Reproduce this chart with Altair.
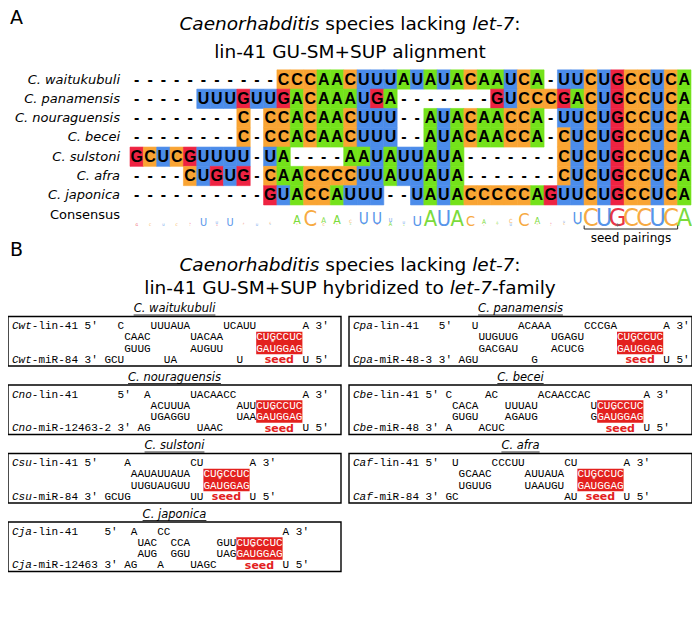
import math
import altair as alt
import pandas as pd

# ---------------- data : panel A ----------------
species = ["C. waitukubuli", "C. panamensis", "C. nouraguensis", "C. becei",
           "C. sulstoni", "C. afra", "C. japonica"]
consensus_label = "Consensus"
alignment = [
    "-" * 11 + "CCCAACUUUAUAUACAAUCA" + "-" + "UUCUGCCUCA",
    "-" * 5 + "UUUGUUG" + "ACAAAUGA" + "-" * 7 + "GUCCCGACUGCCUCA",
    "-" * 8 + "C" + "-" + "CCACAACUUU" + "--" + "AUACAACCA" + "-" + "UUCUGCCUCA",
    "-" * 8 + "C" + "-" + "CCACAACUUU" + "--" + "AUACAACCA" + "-" + "CUCUGCCUCA",
    "GCUCGUUUU" + "-" + "UA" + "-" * 4 + "AAUAUUAUA" + "-" * 7 + "CUCUGCCUCA",
    "-" * 4 + "CUGUG" + "-" + "CAACCCC" + "UUAUUAUA" + "-" * 7 + "CUCUGCCUCA",
    "-" * 10 + "GUACCAUUU" + "--" + "UAUA" + "CCCCC" + "AG" + "UUCUGCCUCA",
]
bases = ["A", "C", "G", "U"]
cell_colors = ["#74E21A", "#F9A433", "#EE2342", "#4B8CEA"]
logo_colors = ["#7BDB3C", "#F7AA42", "#EB3447", "#5795EA"]
seed_span = [34, 40]
wobble_column = 36

title_A = [[("Caenorhabditis", True), (" species lacking ", False), ("let-7", True), (":", False)],
           [("lin-41 GU-SM+SUP alignment", False)]]
title_B = [[("Caenorhabditis", True), (" species lacking ", False), ("let-7", True), (":", False)],
           [("lin-41 GU-SM+SUP hybridized to ", False), ("let-7", True), ("-family", False)]]

# ---------------- data : panel B ----------------
box_species = ["C. waitukubuli", "C. panamensis", "C. nouraguensis", "C. becei",
               "C. sulstoni", "C. afra", "C. japonica"]
target_labels = ["Cwt-lin-41", "Cpa-lin-41", "Cno-lin-41", "Cbe-lin-41",
                 "Csu-lin-41", "Caf-lin-41", "Cja-lin-41"]
mirna_labels = ["Cwt-miR-84", "Cpa-miR-48-3", "Cno-miR-12463-2", "Cbe-miR-48",
                "Csu-miR-84", "Caf-miR-84", "Cja-miR-12463"]
target_unpaired = [
    ["C", "UUUAUA", "UCAUU", "A"],
    ["U", "ACAAA", "CCCGA", "A"],
    ["A", "UACAACC", "A"],
    ["C", "AC", "ACAACCAC", "A"],
    ["A", "CU", "A"],
    ["U", "CCCUU", "CU", "A"],
    ["A", "CC", "", "A"],
]
target_paired = [
    ["CAAC", "UACAA", "CUGCCUC"],
    ["UUGUUG", "UGAGU", "CUGCCUC"],
    ["ACUUUA", "AUUCUGCCUC"],
    ["CACA", "UUUAU", "UCUGCCUC"],
    ["AAUAUUAUA", "CUGCCUC"],
    ["GCAAC", "AUUAUA", "CUGCCUC"],
    ["UAC", "CCA", "GUUCUGCCUC"],
]
mirna_paired = [
    ["GUUG", "AUGUU", "GAUGGAG"],
    ["GACGAU", "ACUCG", "GAUGGAG"],
    ["UGAGGU", "UAAGAUGGAG"],
    ["GUGU", "AGAUG", "GGAUGGAG"],
    ["UUGUAUGUU", "GAUGGAG"],
    ["UGUUG", "UAAUGU", "GAUGGAG"],
    ["AUG", "GGU", "UAGGAUGGAG"],
]
mirna_unpaired = [
    ["GCU", "UA", "U", "U"],
    ["AGU", "G", "", "U"],
    ["AG", "UAAC", "U"],
    ["A", "ACUC", "", "U"],
    ["GCUG", "UU", "U"],
    ["GC", "", "AU", "U"],
    ["AG", "A", "UAGC", "U"],
]
seed_length = 7

# ---------------- layout (page pixels) ----------------
MARGIN = 8
W, H = 684, 617


def P(v):
    return v - MARGIN


SANS = "DejaVu Sans"
MONO = "Liberation Mono"
ALN_X0, ALN_X1 = 130, 691
ALN_Y0, ROW_H = 69.85, 19.3
LABEL_X = 120
LOGO_BASE, LOGO_FULL = 225.5, 18.5

B_TXT_X0 = 12
CW = 6.6
X_STEP = (353 - B_TXT_X0) / CW
BOX_X = [(8, 341), (349, 692)]
LINE0_Y, LINE_H = 326.0, 11.3
ROW_STEP = 68.5 / LINE_H
BOX_TOP0 = 316.5
BOX_H = 49.5
TITLE_Y0 = 309

DV = {' ': .318, 'a': .613, 'b': .635, 'c': .550, 'd': .635, 'e': .615, 'f': .352, 'g': .635,
      'h': .634, 'i': .278, 'j': .278, 'k': .579, 'l': .278, 'm': .974, 'n': .634, 'o': .612,
      'p': .635, 'r': .411, 's': .521, 't': .392, 'u': .634, 'w': .818, 'y': .592, 'z': .525,
      'C': .698, 'G': .775, 'M': .863, 'P': .603, 'S': .635, 'U': .732, '-': .361, '+': .838,
      ':': .337, '.': .318, "'": .275}


def tw(s, size):
    return sum(DV.get(ch, .636) for ch in s) * size


layers = []

# ---------------- panel A ----------------
cell_rows = []
for r, seq in enumerate(alignment):
    for c, ch in enumerate(seq):
        cell_rows.append({"row": r, "col": c, "base": ch})
cells = pd.DataFrame(cell_rows)

xA = alt.Scale(domain=[0, len(alignment[0])], range=[P(ALN_X0), P(ALN_X1)])
yA = alt.Scale(domain=[0, 1], range=[P(ALN_Y0), P(ALN_Y0 + ROW_H)])
cmapA = alt.Scale(domain=bases, range=cell_colors)

layers.append(
    alt.Chart(cells).transform_filter("datum.base != '-'")
    .transform_calculate(c2="datum.col + 1", r2="datum.row + 1")
    .mark_rect(strokeWidth=0.6)
    .encode(x=alt.X("col:Q", scale=xA, axis=None), x2="c2:Q",
            y=alt.Y("row:Q", scale=yA, axis=None), y2="r2:Q",
            color=alt.Color("base:N", scale=cmapA, legend=None),
            stroke=alt.Stroke("base:N", scale=cmapA, legend=None))
)
layers.append(
    alt.Chart(cells).transform_calculate(cx="datum.col + 0.5", cy="datum.row + 0.5")
    .mark_text(font="Liberation Sans", fontWeight="bold", fontSize=16, color="black",
               baseline="middle", align="center")
    .encode(x=alt.X("cx:Q", scale=xA, axis=None), y=alt.Y("cy:Q", scale=yA, axis=None),
            text="base:N")
)

lab_df = pd.DataFrame({"name": species, "row": list(range(len(species)))})
layers.append(
    alt.Chart(lab_df).transform_calculate(cy="datum.row + 0.5")
    .mark_text(font=SANS, fontStyle="italic", fontSize=13, align="right", baseline="middle",
               color="black")
    .encode(x=alt.value(P(LABEL_X)), y=alt.Y("cy:Q", scale=yA, axis=None), text="name:N")
)
cons_df = pd.DataFrame({"name": [consensus_label], "row": [len(species)]})
layers.append(
    alt.Chart(cons_df).transform_calculate(cy="datum.row + 0.5")
    .mark_text(font=SANS, fontSize=13, align="right", baseline="middle", color="black")
    .encode(x=alt.value(P(LABEL_X)), y=alt.Y("cy:Q", scale=yA, axis=None), text="name:N")
)

# consensus sequence logo (information content)
logo_rows = []
nseq = len(alignment)
for c in range(len(alignment[0])):
    colchars = [s[c] for s in alignment if s[c] != "-"]
    n = len(colchars)
    if n == 0:
        continue
    freqs = {b: colchars.count(b) / n for b in bases if colchars.count(b)}
    ent = -sum(f * math.log2(f) for f in freqs.values())
    R = (2 - ent) * n / nseq
    bottom = 0.0
    for h, b in sorted((f * R, b) for b, f in freqs.items()):
        if h > 0.08:
            logo_rows.append({"col": c + 0.5, "base": b, "bottom": bottom, "bits": h})
        bottom += h
logo = pd.DataFrame(logo_rows)
yLogo = alt.Scale(domain=[0, 2], range=[P(LOGO_BASE), P(LOGO_BASE - LOGO_FULL)])
layers.append(
    alt.Chart(logo).mark_text(font="DejaVu Sans Condensed, DejaVu Sans", baseline="alphabetic",
                              align="center")
    .encode(x=alt.X("col:Q", scale=xA, axis=None),
            y=alt.Y("bottom:Q", scale=yLogo, axis=None),
            size=alt.Size("bits:Q", scale=alt.Scale(domain=[0, 2], range=[0, LOGO_FULL / 0.729]),
                          legend=None),
            color=alt.Color("base:N", scale=alt.Scale(domain=bases, range=logo_colors), legend=None),
            text="base:N")
)

# seed bracket
br = pd.DataFrame({"a": [seed_span[0]], "b": [seed_span[1] + 1]})
layers.append(
    alt.Chart(br).mark_rule(color="#222", strokeWidth=1)
    .encode(x=alt.X("a:Q", scale=xA, axis=None), x2="b:Q", y=alt.value(P(229)))
)
ticks = pd.DataFrame({"x": [seed_span[0], seed_span[1] + 1]})
layers.append(
    alt.Chart(ticks).mark_rule(color="#222", strokeWidth=1)
    .encode(x=alt.X("x:Q", scale=xA, axis=None), y=alt.value(P(225.5)), y2=alt.value(P(229)))
)
seedlab = pd.DataFrame({"x": [(seed_span[0] + seed_span[1] + 1) / 2], "t": ["seed pairings"]})
layers.append(
    alt.Chart(seedlab).mark_text(font=SANS, fontSize=12, baseline="middle", color="black")
    .encode(x=alt.X("x:Q", scale=xA, axis=None), y=alt.value(P(238)), text="t:N")
)
star = pd.DataFrame({"x": [wobble_column + 0.5], "t": ["*"]})
layers.append(
    alt.Chart(star).mark_text(font=SANS, fontSize=9, baseline="middle", color="#666")
    .encode(x=alt.X("x:Q", scale=xA, axis=None), y=alt.value(P(227)), text="t:N")
)


# ---------------- titles ----------------
def title_rows(lines, ys, size):
    out = []
    for segs, y in zip(lines, ys):
        total = sum(tw(t, size) for t, _ in segs)
        x = 350 - total / 2
        for t, it in segs:
            lead = len(t) - len(t.lstrip(" "))
            out.append({"t": t.strip(), "x": P(x + tw(" " * lead, size)), "y": P(y),
                        "it": "italic" if it else "normal"})
            x += tw(t, size)
    return out


trows = pd.DataFrame(title_rows(title_A, [24, 52], 18.5) + title_rows(title_B, [265, 288], 18.5))
for style in ["italic", "normal"]:
    layers.append(
        alt.Chart(trows).transform_filter(f"datum.it == '{style}'")
        .mark_text(font=SANS, fontSize=18.5, fontStyle=style, align="left", baseline="middle",
                   color="black")
        .encode(x=alt.X("x:Q", scale=None, axis=None), y=alt.Y("y:Q", scale=None, axis=None),
                text="t:N")
    )
panel = pd.DataFrame({"t": ["A", "B"], "x": [P(10), P(10)], "y": [P(18), P(250)]})
layers.append(
    alt.Chart(panel).mark_text(font=SANS, fontSize=19, align="left", baseline="middle",
                               color="black")
    .encode(x=alt.X("x:Q", scale=None, axis=None), y=alt.Y("y:Q", scale=None, axis=None),
            text="t:N")
)

# ---------------- panel B ----------------
char_rows, seed_rows, box_rows = [], [], []
for b in range(len(box_species)):
    gx, gy = b % 2, b // 2
    ox, oy = gx * X_STEP, gy * ROW_STEP
    chars = []

    def put(line, col, s, kind="nt"):
        for i, ch in enumerate(s):
            if ch != " ":
                chars.append((line, col + i, ch, kind))

    tl, ml = target_labels[b], mirna_labels[b]
    lab = max(len(tl), len(ml))
    put(0, 0, tl[:3], "it"); put(0, 3, tl[3:], "lab"); put(0, lab + 1, "5'", "lab")
    put(3, 0, ml[:3], "it"); put(3, 3, ml[3:], "lab"); put(3, lab + 1, "3'", "lab")
    col = lab + 4
    tu, tp, mp, mu = target_unpaired[b], target_paired[b], mirna_paired[b], mirna_unpaired[b]
    for i in range(len(tp)):
        w = max(len(tu[i]), len(mu[i]))
        if i == 0:
            put(0, col + w - len(tu[i]), tu[i]); put(3, col + w - len(mu[i]), mu[i])
        else:
            put(0, col + (w - len(tu[i])) // 2, tu[i]); put(3, col + (w - len(mu[i])) // 2, mu[i])
        col += w
        put(1, col, tp[i]); put(2, col, mp[i])
        col += len(tp[i])
    seed_col = col - seed_length
    put(0, col, tu[-1]); put(3, col, mu[-1])
    w = max(len(tu[-1]), len(mu[-1]))
    put(0, col + w + 1, "3'", "lab"); put(3, col + w + 1, "5'", "lab")

    for line, c, ch, kind in chars:
        inseed = line in (1, 2) and seed_col <= c < seed_col + seed_length
        char_rows.append({"x": ox + c + 0.5, "y": oy + line, "ch": ch,
                          "it": kind == "it", "color": "white" if inseed else "black"})
    seed_rows.append({"x": ox + seed_col, "x2": ox + seed_col + seed_length,
                      "y": oy + 0.5, "y2": oy + 2.5,
                      "sx": ox + seed_col + 2.5, "sy": oy + 1.5,
                      "lx": ox + seed_col + seed_length / 2, "ly": oy + 3.05})
    bx0, bx1 = BOX_X[gx]
    org = B_TXT_X0 + gx * X_STEP * CW
    tx = ((bx0 + bx1) / 2 - org) / CW + ox
    twc = tw(box_species[b], 11.5) / CW
    box_rows.append({"x": ox + (bx0 - org) / CW, "x2": ox + (bx1 - org) / CW,
                     "y": oy + (BOX_TOP0 - LINE0_Y) / LINE_H,
                     "y2": oy + (BOX_TOP0 + BOX_H - LINE0_Y) / LINE_H,
                     "tx": tx, "ty": oy + (TITLE_Y0 - LINE0_Y) / LINE_H, "name": box_species[b],
                     "ux": tx - twc / 2, "ux2": tx + twc / 2,
                     "uy": oy + (TITLE_Y0 + 6 - LINE0_Y) / LINE_H})

chars_df = pd.DataFrame(char_rows)
seeds_df = pd.DataFrame(seed_rows)
boxes_df = pd.DataFrame(box_rows)
xB = alt.Scale(domain=[0, 1], range=[P(B_TXT_X0), P(B_TXT_X0 + CW)])
yB = alt.Scale(domain=[0, 1], range=[P(LINE0_Y), P(LINE0_Y + LINE_H)])

layers.append(
    alt.Chart(boxes_df).mark_rect(fill="white", fillOpacity=0, stroke="black", strokeWidth=1.4)
    .encode(x=alt.X("x:Q", scale=xB, axis=None), x2="x2:Q",
            y=alt.Y("y:Q", scale=yB, axis=None), y2="y2:Q")
)
layers.append(
    alt.Chart(seeds_df).mark_rect(color="#E3211E")
    .encode(x=alt.X("x:Q", scale=xB, axis=None), x2="x2:Q",
            y=alt.Y("y:Q", scale=yB, axis=None), y2="y2:Q")
)
for it in [False, True]:
    layers.append(
        alt.Chart(chars_df).transform_filter("datum.it" if it else "!datum.it")
        .mark_text(font=MONO, fontSize=11, fontStyle="italic" if it else "normal",
                   baseline="middle", align="center")
        .encode(x=alt.X("x:Q", scale=xB, axis=None), y=alt.Y("y:Q", scale=yB, axis=None),
                text="ch:N", color=alt.Color("color:N", scale=None))
    )
layers.append(
    alt.Chart(seeds_df).transform_calculate(t="'*'")
    .mark_text(font=MONO, fontSize=9, color="white", baseline="middle")
    .encode(x=alt.X("sx:Q", scale=xB, axis=None), y=alt.Y("sy:Q", scale=yB, axis=None), text="t:N")
)
layers.append(
    alt.Chart(seeds_df).transform_calculate(t="'seed'")
    .mark_text(font=SANS, fontSize=11, fontWeight="bold", color="#E3211E", baseline="middle")
    .encode(x=alt.X("lx:Q", scale=xB, axis=None), y=alt.Y("ly:Q", scale=yB, axis=None), text="t:N")
)
layers.append(
    alt.Chart(boxes_df).mark_text(font=SANS, fontSize=11.5, fontStyle="italic", baseline="middle",
                                  color="black")
    .encode(x=alt.X("tx:Q", scale=xB, axis=None), y=alt.Y("ty:Q", scale=yB, axis=None),
            text="name:N")
)
layers.append(
    alt.Chart(boxes_df).mark_rule(color="black", strokeWidth=0.8)
    .encode(x=alt.X("ux:Q", scale=xB, axis=None), x2="ux2:Q", y=alt.Y("uy:Q", scale=yB, axis=None))
)

chart = (
    alt.layer(*layers)
    .resolve_scale(x="independent", y="independent", color="independent", size="independent",
                   stroke="independent")
    .properties(width=W, height=H, padding=0, autosize=alt.AutoSizeParams(type="none"),
                background="white")
    .configure_view(strokeWidth=0)
)
chart.save("out.html", embed_options={"renderer": "svg", "actions": False})
